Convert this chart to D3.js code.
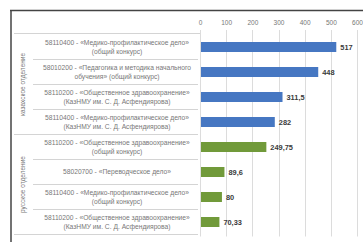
<!DOCTYPE html>
<html>
<head>
<meta charset="utf-8">
<script src="https://cdn.jsdelivr.net/npm/d3@7"></script>
<style>
  body { margin: 0; background: #fff; }
  svg { display: block; font-family: "Liberation Sans", Arial, sans-serif; }
</style>
</head>
<body>
<svg id="chart" width="363" height="242"></svg>
<script>
// categories, top to bottom (two label lines each)
const labels = [
  ["58110400 - «Медико-профилактическое дело»", "(общий конкурс)"],
  ["58010200 - «Педагогика и методика начального", "обучения» (общий конкурс)"],
  ["58110200 - «Общественное здравоохранение»", "(КазНМУ им. С. Д. Асфендиярова)"],
  ["58110400 - «Медико-профилактическое дело»", "(КазНМУ им. С. Д. Асфендиярова)"],
  ["58110200 - «Общественное здравоохранение»", "(общий конкурс)"],
  ["58020700 - «Переводческое дело»"],
  ["58110400 - «Медико-профилактическое дело»", "(общий конкурс)"],
  ["58110200 - «Общественное здравоохранение»", "(КазНМУ им. С. Д. Асфендиярова)"]
];
const values = [517, 448, 311.5, 282, 249.75, 89.6, 80, 70.33];
const valueText = ["517", "448", "311,5", "282", "249,75", "89,6", "80", "70,33"];
const groupOf = [0, 0, 0, 0, 1, 1, 1, 1];
const groups = ["казахское отделение", "русское отделение"];
const xTicks = [0, 100, 200, 300, 400, 500, 600];

const colors = ["#4677c2", "#719a3a"];

const svg = d3.select("#chart");
const mLeft = 200, mRight = 357, mTop = 34.5, mBottom = 234.5;

const x = d3.scaleLinear().domain([0, 600]).range([mLeft, mRight]);
const y = d3.scaleBand().domain(d3.range(values.length)).range([mTop, mBottom]).paddingInner(0.6).paddingOuter(0.3);
const yRow = d3.scaleBand().domain(d3.range(values.length)).range([mTop, mBottom]);

// frame (dark top and left border)
svg.append("line").attr("x1", 10).attr("x2", 363).attr("y1", 10.5).attr("y2", 10.5)
  .attr("stroke", "#444").attr("stroke-width", 1.5);
svg.append("line").attr("x1", 11).attr("x2", 11).attr("y1", 10).attr("y2", 242)
  .attr("stroke", "#444").attr("stroke-width", 1.5);

// grid lines
svg.append("g").selectAll("line").data(xTicks).join("line")
  .attr("x1", d => Math.round(x(d)) + 0.5).attr("x2", d => Math.round(x(d)) + 0.5)
  .attr("y1", 30).attr("y2", mBottom + 2)
  .attr("stroke", "#dcdcdc").attr("stroke-width", 1);

// top axis
const axis = svg.append("g").attr("transform", "translate(0,30)")
  .call(d3.axisTop(x).tickValues(xTicks).tickSize(0).tickPadding(5));
axis.select(".domain").remove();
axis.selectAll("text").attr("fill", "#777").attr("font-size", 6.5)
  .attr("font-family", "Liberation Sans, Arial, sans-serif");

// table lines on the left
svg.append("line").attr("x1", 14).attr("x2", mLeft).attr("y1", mTop - 1).attr("y2", mTop - 1)
  .attr("stroke", "#d4d4d4");
const rowLines = svg.append("g");
d3.range(1, values.length + 1).forEach(i => {
  const yy = mTop + yRow.bandwidth() * i;
  const groupEdge = i === 4 || i === values.length;
  rowLines.append("line")
    .attr("x1", groupEdge ? 14 : 33).attr("x2", mLeft - 2)
    .attr("y1", yy).attr("y2", yy)
    .attr("stroke", "#d4d4d4");
});

// group labels (rotated)
groups.forEach((g, gi) => {
  const rows = d3.range(values.length).filter(i => groupOf[i] === gi);
  const cy = (yRow(rows[0]) + yRow(rows[rows.length - 1]) + yRow.bandwidth()) / 2;
  svg.append("text")
    .attr("transform", "translate(25," + cy + ") rotate(-90)")
    .attr("text-anchor", "middle")
    .attr("font-size", 6.5)
    .attr("fill", "#777")
    .text(g);
});

// category labels
const lab = svg.append("g").selectAll("text").data(labels).join("text")
  .attr("text-anchor", "middle")
  .attr("font-size", 6.7)
  .attr("fill", "#777");
lab.each(function (d, i) {
  const cy = yRow(i) + yRow.bandwidth() / 2;
  const n = d.length;
  d3.select(this).selectAll("tspan").data(d).join("tspan")
    .attr("x", 117)
    .attr("y", (t, j) => cy + (j - (n - 1) / 2) * 8.8 + 2.3)
    .text(t => t);
});

// bars
svg.append("g").selectAll("rect").data(values).join("rect")
  .attr("x", x(0) + 1)
  .attr("y", (d, i) => y(i))
  .attr("width", d => x(d) - x(0))
  .attr("height", y.bandwidth())
  .attr("fill", (d, i) => colors[groupOf[i]]);

// value labels
svg.append("g").selectAll("text").data(values).join("text")
  .attr("x", d => x(d) + 5)
  .attr("y", (d, i) => y(i) + y.bandwidth() / 2 + 2.6)
  .attr("font-size", 7.4)
  .attr("font-weight", "bold")
  .attr("fill", "#3a3a3a")
  .text((d, i) => valueText[i]);
</script>
</body>
</html>
